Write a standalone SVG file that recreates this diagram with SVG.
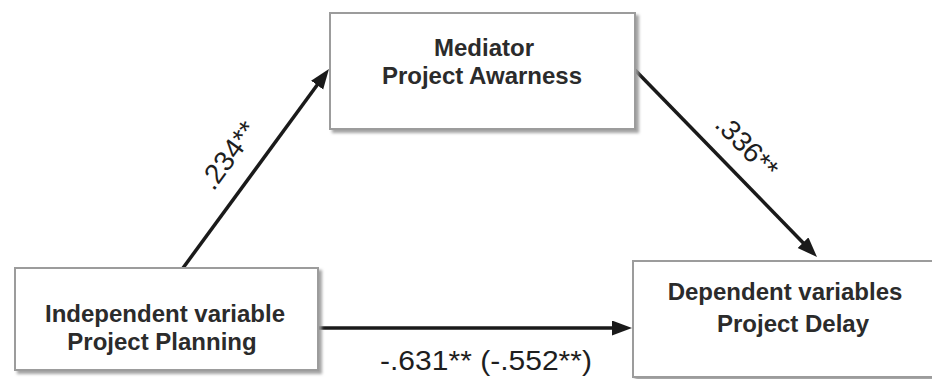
<svg xmlns="http://www.w3.org/2000/svg" width="932" height="379" viewBox="0 0 932 379">
  <defs>
    <filter id="sh" x="-5%" y="-5%" width="115%" height="120%">
      <feDropShadow dx="3" dy="3" stdDeviation="1.5" flood-color="#9a9a9a" flood-opacity="0.9"/>
    </filter>
    <marker id="ah" markerUnits="userSpaceOnUse" markerWidth="22" markerHeight="18" refX="14" refY="7.5" orient="auto">
      <path d="M0,0 L20,7.5 L0,15 Z" fill="#1a1a1a"/>
    </marker>
  </defs>
  <style>
    .box { fill: #ffffff; stroke: #9c9c9c; stroke-width: 2; filter: url(#sh); }
    .nt { font-family: "Liberation Sans", Arial, sans-serif; font-weight: bold; font-size: 24px; fill: #2b2b2b; text-anchor: middle; }
    .lbl { font-family: "Liberation Sans", Arial, sans-serif; font-size: 28px; fill: #1e1e1e; text-anchor: middle; }
    .conn { stroke: #1a1a1a; stroke-width: 3.5; fill: none; marker-end: url(#ah); }
  </style>
  <rect width="932" height="379" fill="#ffffff"/>
  <g id="connectors">
    <line class="conn" x1="183" y1="268" x2="325.4" y2="73.8"/>
    <line class="conn" x1="635" y1="70" x2="812.8" y2="252.7"/>
    <line class="conn" x1="318" y1="328" x2="626" y2="328"/>
    <text class="lbl" transform="translate(236,161) rotate(-53.7)">.234**</text>
    <text class="lbl" transform="translate(740,153) rotate(45.8)">.336**</text>
    <text class="lbl" x="486" y="370" textLength="212" lengthAdjust="spacingAndGlyphs">-.631** (-.552**)</text>
  </g>
  <g id="mediator">
    <rect class="box" x="330" y="13" width="305" height="116"/>
    <text class="nt" x="484" y="56">Mediator</text>
    <text class="nt" x="482" y="84">Project Awarness</text>
  </g>
  <g id="independent">
    <rect class="box" x="15" y="268" width="303" height="102"/>
    <text class="nt" x="165" y="322">Independent variable</text>
    <text class="nt" x="162" y="350">Project Planning</text>
  </g>
  <g id="dependent">
    <rect class="box" x="633" y="261" width="310" height="116"/>
    <text class="nt" x="785" y="300">Dependent variables</text>
    <text class="nt" x="793" y="332">Project Delay</text>
  </g>
</svg>
